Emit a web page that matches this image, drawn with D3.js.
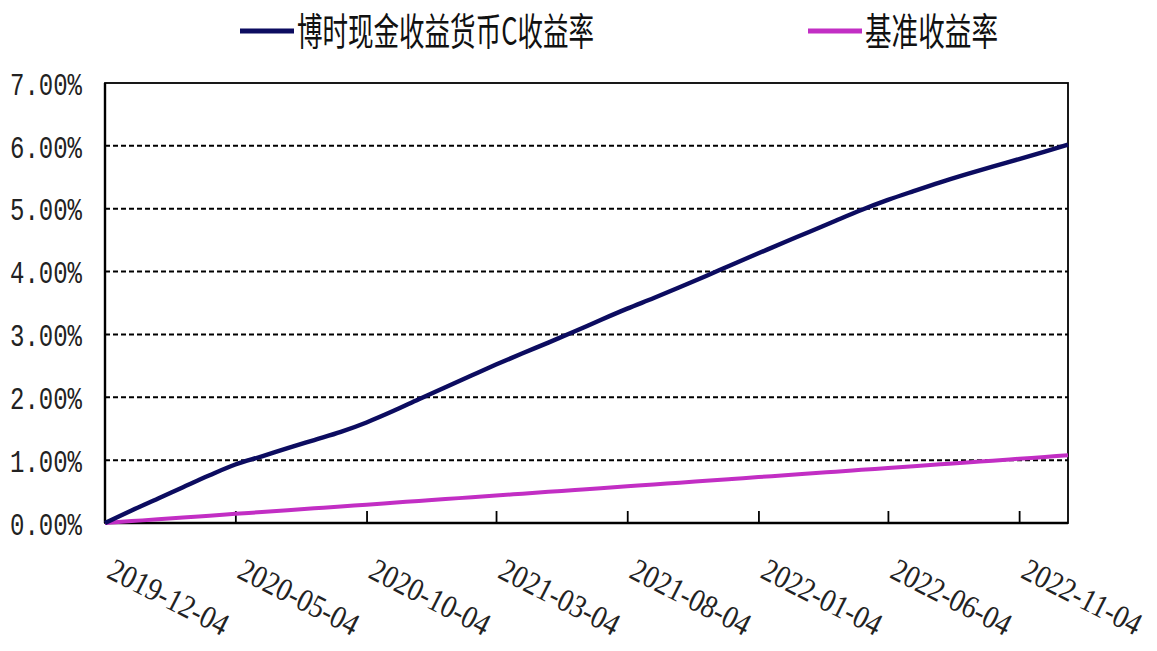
<!DOCTYPE html>
<html><head><meta charset="utf-8">
<script src="https://cdn.jsdelivr.net/npm/d3@7"></script>
<style>html,body{margin:0;padding:0;background:#fff;}svg{display:block;}</style>
</head><body>
<svg id="c" width="1157" height="651"></svg>
<script>
const seriesNames = ["博时现金收益货币C收益率", "基准收益率"];
const dates = ["2019-12-04","2020-01-04","2020-02-04","2020-03-04","2020-04-04","2020-05-04","2020-06-04","2020-07-04","2020-08-04","2020-09-04","2020-10-04","2020-11-04","2020-12-04","2021-01-04","2021-02-04","2021-03-04","2021-04-04","2021-05-04","2021-06-04","2021-07-04","2021-08-04","2021-09-04","2021-10-04","2021-11-04","2021-12-04","2022-01-04","2022-02-04","2022-03-04","2022-04-04","2022-05-04","2022-06-04","2022-07-04","2022-08-04","2022-09-04","2022-10-04","2022-11-04","2022-12-04","2022-12-31"];
const fundValues = [0,0.20,0.39,0.57,0.76,0.93,1.06,1.19,1.32,1.45,1.60,1.78,1.97,2.16,2.35,2.52,2.70,2.87,3.05,3.23,3.41,3.58,3.75,3.93,4.11,4.29,4.47,4.63,4.81,4.98,5.14,5.28,5.42,5.55,5.67,5.79,5.91,6.02];
const benchValues = [0,0.030,0.059,0.087,0.117,0.146,0.175,0.204,0.234,0.264,0.292,0.322,0.351,0.381,0.410,0.437,0.467,0.496,0.525,0.554,0.584,0.614,0.642,0.672,0.701,0.731,0.760,0.787,0.817,0.846,0.875,0.904,0.934,0.964,0.992,1.022,1.051,1.077];
const xTickLabels = ["2019-12-04","2020-05-04","2020-10-04","2021-03-04","2021-08-04","2022-01-04","2022-06-04","2022-11-04"];
const yTicks = [0,1,2,3,4,5,6,7];
const colors = ["#0c0c60","#c22ec4"];

const parse = d3.timeParse("%Y-%m-%d");
const svg = d3.select("#c");
const L=105, R=1068, T=83, B=523;
const x = d3.scaleTime().domain([parse(dates[0]), parse(dates[dates.length-1])]).range([L,R]);
const y = d3.scaleLinear().domain([0,7]).range([B,T]);

// grid
svg.append("g").selectAll("line").data(yTicks.filter(v=>v>0&&v<7)).join("line")
  .attr("x1",L).attr("x2",R).attr("y1",d=>y(d)).attr("y2",d=>y(d))
  .attr("stroke","#000").attr("stroke-width",2).attr("stroke-dasharray","5,3");

// border
svg.append("rect").attr("x",L).attr("y",T).attr("width",R-L).attr("height",B-T)
  .attr("fill","none").attr("stroke","#000").attr("stroke-width",1.8);
svg.append("line").attr("x1",L).attr("x2",L).attr("y1",T).attr("y2",B).attr("stroke","#000").attr("stroke-width",2.4);
svg.append("line").attr("x1",L).attr("x2",R).attr("y1",B).attr("y2",B).attr("stroke","#000").attr("stroke-width",2.6);

// x ticks
const xa = d3.axisBottom(x).tickValues(xTickLabels.map(parse)).tickSize(-12).tickFormat(()=> "");
const gx = svg.append("g").attr("transform",`translate(0,${B})`).call(xa);
gx.select(".domain").remove();
gx.selectAll(".tick line").attr("stroke","#000").attr("stroke-width",1.8)
  .filter((d,i)=>i===0).remove();
gx.selectAll(".tick").append("text")
  .attr("fill","#222").attr("font-family","Liberation Serif").attr("font-size",28)
  .attr("text-anchor","start")
  .attr("transform","translate(0,54) rotate(27) scale(1,1.15)")
  .text((d,i)=>xTickLabels[i]);

// y labels
const ya = d3.axisLeft(y).tickValues(yTicks).tickSize(0).tickFormat(d=>d.toFixed(2)+"%");
const gy = svg.append("g").attr("transform",`translate(${L},0)`).call(ya);
gy.select(".domain").remove();
gy.selectAll(".tick text").attr("x",-23).attr("dy","0.36em")
  .attr("transform","scale(1,1.3)")
  .attr("font-family","Liberation Mono").attr("font-size",24).attr("fill","#222");

// lines
const pts = v => dates.map((d,i)=>[parse(d), v[i]]);
const line = d3.line().curve(d3.curveMonotoneX).x(d=>x(d[0])).y(d=>y(d[1]));
svg.append("path").datum(pts(benchValues)).attr("d",line).attr("fill","none")
  .attr("stroke",colors[1]).attr("stroke-width",4);
svg.append("path").datum(pts(fundValues)).attr("d",line).attr("fill","none")
  .attr("stroke",colors[0]).attr("stroke-width",4.4);

// legend
const leg = [{x:240, name:seriesNames[0], c:colors[0], w:297},{x:808, name:seriesNames[1], c:colors[1], w:133}];
const lg = svg.append("g").selectAll("g").data(leg).join("g").attr("transform",d=>`translate(${d.x},31)`);
lg.append("line").attr("x1",0).attr("x2",54).attr("y1",0).attr("y2",0).attr("stroke",d=>d.c).attr("stroke-width",5);
lg.append("text").attr("x",0).attr("y",0)
  .attr("transform","translate(57,0) scale(1,1.4)")
  .attr("textLength",d=>d.w).attr("lengthAdjust","spacingAndGlyphs")
  .attr("dy","0.36em").attr("font-family","Noto Sans CJK SC").attr("font-size",27).attr("fill","#111")
  .text(d=>d.name);
</script>
</body></html>
